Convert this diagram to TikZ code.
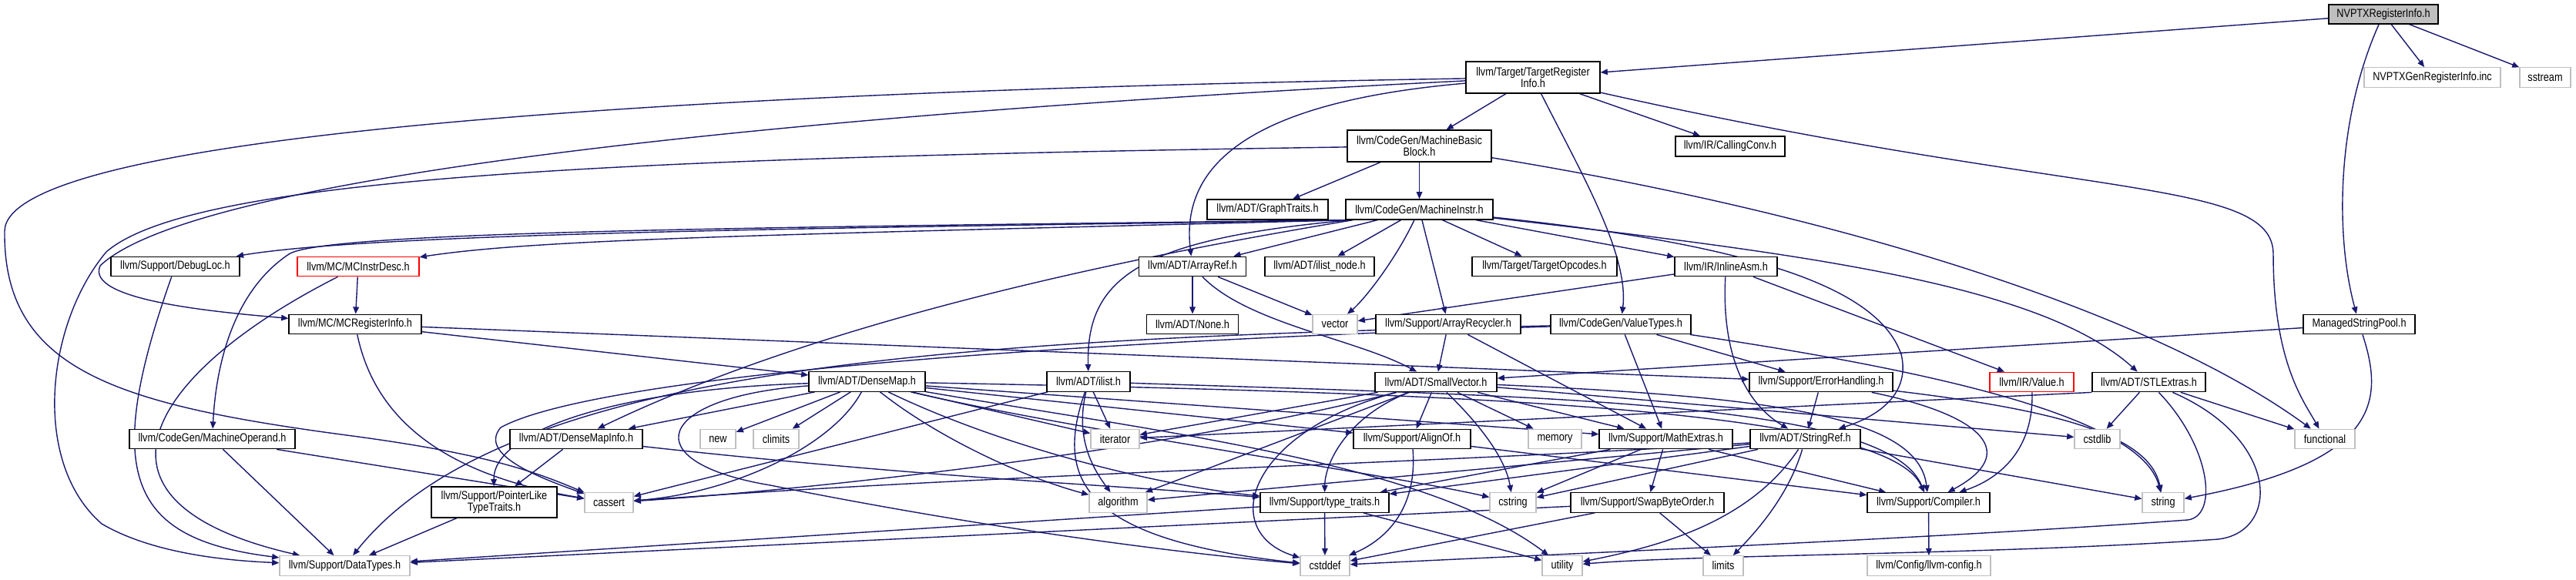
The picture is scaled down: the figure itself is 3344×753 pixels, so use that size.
\documentclass[tikz,border=0pt]{standalone}
\usepackage{fontspec}
\newfontfamily\nfont{Liberation Sans}[FakeStretch=0.835]
\usetikzlibrary{arrows.meta,backgrounds}
\definecolor{edgec}{HTML}{191970}
\definecolor{gbd}{HTML}{BFBFBF}
\pgfdeclarelayer{paper}
\pgfsetlayers{paper,background,main}
\begin{document}
\begin{tikzpicture}[x=0.5pt,y=-0.5pt,
 nb/.style={draw=black, line width=0.65pt, fill=white, inner sep=0pt, font=\nfont\fontsize{7.6pt}{7.1pt}\selectfont, align=center, minimum height=12.75pt},
 ng/.style={nb, draw=gbd},
 nr/.style={nb, draw=red},
 e/.style={draw=edgec, line width=0.7pt, -{Triangle[length=4.6pt,width=3.8pt]}}]
\begin{pgfonlayer}{paper}
\fill[white] (0,0) rectangle (3344,753);
\end{pgfonlayer}
\useasboundingbox (0,0) rectangle (3344,753);
% nodes
\node[nb, fill=gbd, minimum width=71pt, minimum height=12.5pt] (nvptx) at (3094,18.5) {NVPTXRegisterInfo.h};
\node[nb, minimum width=87pt, minimum height=20.5pt] (tri) at (1990,100.5) {llvm/Target/TargetRegister\\Info.h};
\node[ng, minimum width=88.5pt] (gen) at (3157.5,100.5) {NVPTXGenRegisterInfo.inc};
\node[ng, minimum width=33pt] (sstream) at (3304,100.5) {sstream};
\node[nb, minimum width=93.5pt, minimum height=20.5pt] (mbb) at (1842.5,189.5) {llvm/CodeGen/MachineBasic\\Block.h};
\node[nb, minimum width=71pt, minimum height=13pt] (callconv) at (2246,190) {llvm/IR/CallingConv.h};
\node[nb, minimum width=95.5pt, minimum height=13pt] (minstr) at (1842.5,272) {llvm/CodeGen/MachineInstr.h};
\node[nb, minimum width=78.5pt, minimum height=13pt] (graphtraits) at (1645.5,272) {llvm/ADT/GraphTraits.h};
\node[nb, minimum width=83.5pt] (debugloc) at (227.5,346) {llvm/Support/DebugLoc.h};
\node[nr, minimum width=79pt] (mcinstrdesc) at (465,346) {llvm/MC/MCInstrDesc.h};
\node[nb, minimum width=69.5pt] (arrayref) at (1548,346) {llvm/ADT/ArrayRef.h};
\node[nb, minimum width=71pt] (ilistnode) at (1713,346) {llvm/ADT/ilist\_node.h};
\node[nb, minimum width=94pt] (targetopcodes) at (2005,346) {llvm/Target/TargetOpcodes.h};
\node[nb, minimum width=66.5pt] (inlineasm) at (2240.5,346) {llvm/IR/InlineAsm.h};
\node[nb, minimum width=86pt] (mcreginfo) at (461,421) {llvm/MC/MCRegisterInfo.h};
\node[nb, minimum width=59.5pt] (none) at (1548,421) {llvm/ADT/None.h};
\node[ng, minimum width=29pt] (vector) at (1733,421) {vector};
\node[nb, minimum width=94pt] (arrayrecycler) at (1880,421) {llvm/Support/ArrayRecycler.h};
\node[nb, minimum width=91pt] (valuetypes) at (2104,421) {llvm/CodeGen/ValueTypes.h};
\node[nb, minimum width=72.5pt] (msp) at (3062.5,421) {ManagedStringPool.h};
\node[nb, minimum width=75.5pt] (densemap) at (1125.5,495.5) {llvm/ADT/DenseMap.h};
\node[nb, minimum width=54pt] (ilist) at (1413,495.5) {llvm/ADT/ilist.h};
\node[nb, minimum width=79pt] (smallvector) at (1864,496) {llvm/ADT/SmallVector.h};
\node[nb, minimum width=93pt] (errorhandling) at (2364,496) {llvm/Support/ErrorHandling.h};
\node[nr, minimum width=54.5pt] (value) at (2637.5,496) {llvm/IR/Value.h};
\node[nb, minimum width=73.5pt] (stlextras) at (2789.5,496) {llvm/ADT/STLExtras.h};
\node[nb, minimum width=107.5pt] (machineoperand) at (275.5,570) {llvm/CodeGen/MachineOperand.h};
\node[nb, minimum width=86pt] (densemapinfo) at (748,570) {llvm/ADT/DenseMapInfo.h};
\node[ng, minimum width=23pt] (new) at (932,570) {new};
\node[ng, minimum width=29.5pt] (climits) at (1007.5,570) {climits};
\node[ng, minimum width=31.5pt] (iterator) at (1447.5,570) {iterator};
\node[nb, minimum width=76pt] (alignof) at (1833,570) {llvm/Support/AlignOf.h};
\node[ng, minimum width=34.5pt] (memory) at (2018.5,570) {memory};
\node[nb, minimum width=86.5pt] (mathextras) at (2162.5,570) {llvm/Support/MathExtras.h};
\node[nb, minimum width=71.5pt] (stringref) at (2343.5,570) {llvm/ADT/StringRef.h};
\node[ng, minimum width=29.5pt] (cstdlib) at (2722.5,570) {cstdlib};
\node[ng, minimum width=39pt] (functional) at (3018,570) {functional};
\node[nb, minimum width=81.5pt, minimum height=20pt] (plt) at (641.5,652) {llvm/Support/PointerLike\\TypeTraits.h};
\node[ng, minimum width=31.5pt] (cassert) at (790.5,652.5) {cassert};
\node[ng, minimum width=37.5pt] (algorithm) at (1451.5,652.5) {algorithm};
\node[nb, minimum width=83.5pt] (typetraits) at (1719.5,652.5) {llvm/Support/type\_traits.h};
\node[ng, minimum width=30pt] (cstring) at (1964,652.5) {cstring};
\node[nb, minimum width=99.5pt] (swapbyteorder) at (2138.5,652.5) {llvm/Support/SwapByteOrder.h};
\node[nb, minimum width=79.5pt] (compiler) at (2503.5,652.5) {llvm/Support/Compiler.h};
\node[ng, minimum width=27pt] (string) at (2808,652.5) {string};
\node[ng, minimum width=84.5pt] (datatypes) at (447.5,734.5) {llvm/Support/DataTypes.h};
\node[ng, minimum width=32pt] (cstddef) at (1720,734.5) {cstddef};
\node[ng, minimum width=26pt] (utility) at (2028,734.5) {utility};
\node[ng, minimum width=26pt] (limits) at (2237,734.5) {limits};
\node[ng, minimum width=80pt] (llvmconfig) at (2504,734.5) {llvm/Config/llvm-config.h};
% edges
\begin{pgfonlayer}{background}
\draw[e] (nvptx) -- (tri);
\draw[e] (nvptx) -- (gen);
\draw[e] (nvptx) -- (sstream);
\draw[e] (nvptx) .. controls (3035,150) and (3030,300) .. (msp);
\draw[e] (tri) -- (mbb);
\draw[e] (tri) -- (callconv);
\draw[e] (tri) .. controls (2050,220) and (2115,330) .. (valuetypes);
\draw[e] (tri) .. controls (2700,260) and (2951,230) .. (2951,330) .. controls (2951,470) and (2990,520) .. (functional);
\draw[e] (tri) .. controls (1650,130) and (1530,200) .. (arrayref);
\draw[e] (tri) .. controls (1000,150) and (250,230) .. (130,345) .. controls (110,390) and (280,405) .. (mcreginfo);
\draw[e] (tri) .. controls (800,120) and (8,180) .. (6,300) .. controls (4,480) and (150,525) .. (450,565) .. controls (640,590) and (700,615) .. (cassert);
\draw[e] (mbb) -- (graphtraits);
\draw[e] (mbb) -- (minstr);
\draw[e] (mbb) .. controls (800,205) and (250,230) .. (138,327) .. controls (60,420) and (40,600) .. (132,680) .. controls (200,720) and (300,728) .. (datatypes);
\draw[e] (mbb) .. controls (2400,280) and (2800,410) .. (functional);
\draw[e] ([xshift=2pt]minstr.south west) .. controls (1200,295) and (500,300) .. (debugloc);
\draw[e] ([xshift=3pt]minstr.south west) .. controls (1000,305) and (700,310) .. (mcinstrdesc);
\draw[e] ([xshift=2.5pt]minstr.south west) .. controls (1000,295) and (420,300) .. (375,330) .. controls (300,380) and (280,480) .. (machineoperand);
\draw[e] ([xshift=5pt]minstr.south west) .. controls (1550,320) and (1100,400) .. (densemapinfo);
\draw[e] (minstr) -- (arrayref);
\draw[e] (minstr) -- (ilistnode);
\draw[e] (minstr) .. controls (1810,340) and (1770,390) .. (vector);
\draw[e] (minstr) -- (arrayrecycler);
\draw[e] (minstr) -- (targetopcodes);
\draw[e] (minstr) -- (inlineasm);
\draw[e] ([xshift=4pt]minstr.south west) .. controls (1480,310) and (1410,360) .. (ilist);
\draw[e] (minstr) .. controls (2350,330) and (2650,370) .. (stlextras);
\draw[e] (minstr) .. controls (2300,320) and (2440,380) .. (2468,460) .. controls (2480,510) and (2440,540) .. (stringref);
\draw[e] (debugloc) .. controls (130,620) and (170,700) .. (datatypes);
\draw[e] (mcinstrdesc) -- (mcreginfo);
\draw[e] (mcinstrdesc) .. controls (200,480) and (80,650) .. (datatypes);
\draw[e] (mcreginfo) .. controls (490,560) and (600,620) .. (cassert);
\draw[e] (mcreginfo) -- (densemap);
\draw[e] (mcreginfo) -- (errorhandling);
\draw[e] (machineoperand) -- (datatypes);
\draw[e] (machineoperand) -- (cassert);
\draw[e] (densemapinfo) -- (plt);
\draw[e] (densemapinfo) .. controls (1200,620) and (1450,630) .. (typetraits);
\draw[e] (plt) -- (datatypes);
\draw[e] (densemap) -- (new);
\draw[e] (densemap) -- (climits);
\draw[e] (densemap) -- (densemapinfo);
\draw[e] (densemap) .. controls (800,505) and (640,560) .. (plt);
\draw[e] (densemap) .. controls (1080,580) and (950,640) .. (cassert);
\draw[e] (densemap) .. controls (850,515) and (820,600) .. (1000,630) .. controls (1300,690) and (1550,720) .. (cstddef);
\draw[e] (densemap) -- (iterator);
\draw[e] (densemap) .. controls (1220,570) and (1330,620) .. (algorithm);
\draw[e] (densemap) .. controls (1300,580) and (1500,630) .. (typetraits);
\draw[e] (densemap) .. controls (1500,560) and (1850,600) .. (utility);
\draw[e] (densemap) .. controls (1400,560) and (1800,615) .. (cstring);
\draw[e] (densemap) -- (alignof);
\draw[e] (densemap) -- (mathextras);
\draw[e] (densemap) .. controls (1900,510) and (2450,530) .. (compiler);
\draw[e] (ilist) -- (iterator);
\draw[e] (ilist) .. controls (1395,570) and (1420,610) .. (algorithm);
\draw[e] (ilist) .. controls (1370,620) and (1400,700) .. (cstddef);
\draw[e] (ilist) -- (cassert);
\draw[e] (ilist) .. controls (2000,515) and (2450,520) .. (compiler);
\draw[e] (smallvector) -- (iterator);
\draw[e] (smallvector) -- (algorithm);
\draw[e] (smallvector) .. controls (1500,590) and (1000,640) .. (cassert);
\draw[e] (smallvector) .. controls (1620,560) and (1580,690) .. (cstddef);
\draw[e] (smallvector) .. controls (1750,540) and (1720,600) .. (typetraits);
\draw[e] (smallvector) -- (alignof);
\draw[e] (smallvector) .. controls (1930,560) and (1955,600) .. (cstring);
\draw[e] (smallvector) -- (memory);
\draw[e] (smallvector) -- (mathextras);
\draw[e] (smallvector) .. controls (2300,515) and (2490,540) .. (compiler);
\draw[e] (smallvector) -- (cstdlib);
\draw[e] (arrayref) -- (none);
\draw[e] (arrayref) -- (vector);
\draw[e] (arrayref) .. controls (1620,420) and (1760,440) .. (smallvector);
\draw[e] (arrayrecycler) -- (smallvector);
\draw[e] (arrayrecycler) -- (mathextras);
\draw[e] (valuetypes) -- (mathextras);
\draw[e] (valuetypes) -- (errorhandling);
\draw[e] (valuetypes) .. controls (2500,480) and (2780,540) .. (string);
\draw[e] (valuetypes) .. controls (1200,440) and (650,480) .. (datatypes);
\draw[e] (valuetypes) .. controls (1200,450) and (750,500) .. (650,555) .. controls (620,590) and (700,620) .. (cassert);
\draw[e] (inlineasm) -- (vector);
\draw[e] (inlineasm) .. controls (2235,450) and (2260,520) .. (stringref);
\draw[e] (inlineasm) -- (value);
\draw[e] (errorhandling) -- (stringref);
\draw[e] (errorhandling) .. controls (2580,540) and (2620,590) .. (compiler);
\draw[e] (errorhandling) .. controls (2650,530) and (2790,560) .. (string);
\draw[e] (value) .. controls (2640,580) and (2600,620) .. (compiler);
\draw[e] (stlextras) -- (cstdlib);
\draw[e] (stlextras) -- (functional);
\draw[e] (stlextras.south west) -- (iterator);
\draw[e] (stlextras) .. controls (2870,580) and (2880,670) .. (2840,675) .. controls (2500,700) and (2000,720) .. (cstddef);
\draw[e] (stlextras) .. controls (2960,570) and (2960,690) .. (2880,700) .. controls (2600,720) and (2200,720) .. (utility);
\draw[e] (msp) -- (smallvector);
\draw[e] (msp) .. controls (3095,520) and (3090,600) .. (string);
\draw[e] (stringref) -- (cstring);
\draw[e] (stringref) -- (typetraits);
\draw[e] (stringref) -- (algorithm);
\draw[e] (stringref) .. controls (1900,600) and (1300,615) .. (cassert);
\draw[e] (stringref) .. controls (2320,650) and (2270,700) .. (limits);
\draw[e] (stringref) .. controls (2270,680) and (2150,710) .. (utility);
\draw[e] (stringref) -- (string);
\draw[e] (mathextras) -- (cstring);
\draw[e] (mathextras) -- (swapbyteorder);
\draw[e] (mathextras) -- (compiler);
\draw[e] (mathextras) -- (typetraits);
\draw[e] (swapbyteorder) -- (limits);
\draw[e] (swapbyteorder) -- (cstddef);
\draw[e] (swapbyteorder) -- (datatypes);
\draw[e] (alignof) .. controls (1840,660) and (1800,700) .. (cstddef);
\draw[e] (alignof) -- (compiler);
\draw[e] (typetraits) -- (cstddef);
\draw[e] (typetraits) -- (utility);
\draw[e] (typetraits) -- (datatypes);
\draw[e] (compiler) -- (llvmconfig);
\end{pgfonlayer}
\end{tikzpicture}
\end{document}
